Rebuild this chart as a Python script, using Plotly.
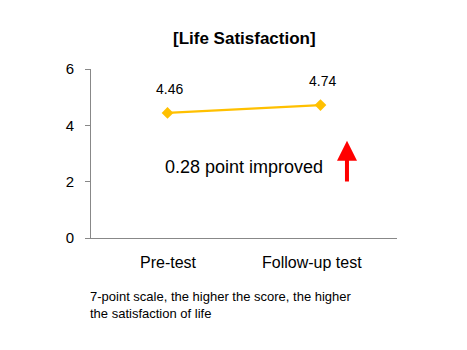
import plotly.graph_objects as go

categories = ["Pre-test", "Follow-up test"]
values = [4.44, 4.72]
value_labels = ["4.46", "4.74"]
y_ticks = [0, 2, 4, 6]

FONT = "Liberation Sans, Arial, sans-serif"

fig = go.Figure()
fig.add_trace(go.Scatter(
    x=categories, y=values,
    mode="lines+markers",
    line=dict(color="#FFC000", width=2.2),
    marker=dict(symbol="diamond", size=9, color="#FFC000"),
    hoverinfo="skip",
))

for c, v, lab in zip(categories, values, value_labels):
    fig.add_annotation(x=c, y=v, text=lab, showarrow=False, yshift=24, xshift=2,
                       font=dict(family=FONT, size=14, color="#000"))

# category labels
for c, dx in zip(categories, [1, -9]):
    fig.add_annotation(x=c, y=0, xref="x", yref="paper", yanchor="top", yshift=-14,
                       xshift=dx, text=c, showarrow=False,
                       font=dict(family=FONT, size=16, color="#000"))

fig.add_annotation(x=0.5, y=2.53, xref="x", yref="y", text="0.28 point improved",
                   showarrow=False, font=dict(family=FONT, size=18, color="#000"))

# red arrow
fig.add_annotation(x=1.173, y=3.45, ax=1.173, ay=1.95, xref="x", yref="y",
                   axref="x", ayref="y", text="", showarrow=True,
                   arrowhead=2, arrowsize=1.0, arrowwidth=4, arrowcolor="#FF0000")

fig.add_annotation(x=0.5, y=1, xref="paper", yref="paper", yanchor="middle", yshift=31,
                   text="<b>[Life Satisfaction]</b>", showarrow=False,
                   font=dict(family=FONT, size=17, color="#000"))

fig.add_annotation(x=0, y=0, xref="paper", yref="paper", xanchor="left", yanchor="top",
                   xshift=-3, yshift=-49, align="left",
                   text="7-point scale, the higher the score, the higher<br>the satisfaction of life",
                   showarrow=False, font=dict(family=FONT, size=13, color="#000"))

fig.update_layout(
    width=467, height=350,
    margin=dict(l=91, r=70, t=69, b=112),
    paper_bgcolor="white", plot_bgcolor="white",
    showlegend=False,
    xaxis=dict(type="category", range=[-0.5, 1.5], showgrid=False, zeroline=False,
               showline=True, linecolor="#888", linewidth=1, ticks="",
               showticklabels=False),
    yaxis=dict(range=[0, 6], tickvals=y_ticks, showgrid=False, zeroline=False,
               showline=True, linecolor="#888", linewidth=1, ticks="outside",
               ticklen=5, tickcolor="#888", ticklabelstandoff=8,
               tickfont=dict(family=FONT, size=15, color="#000")),
)

fig.write_html("out.html")
